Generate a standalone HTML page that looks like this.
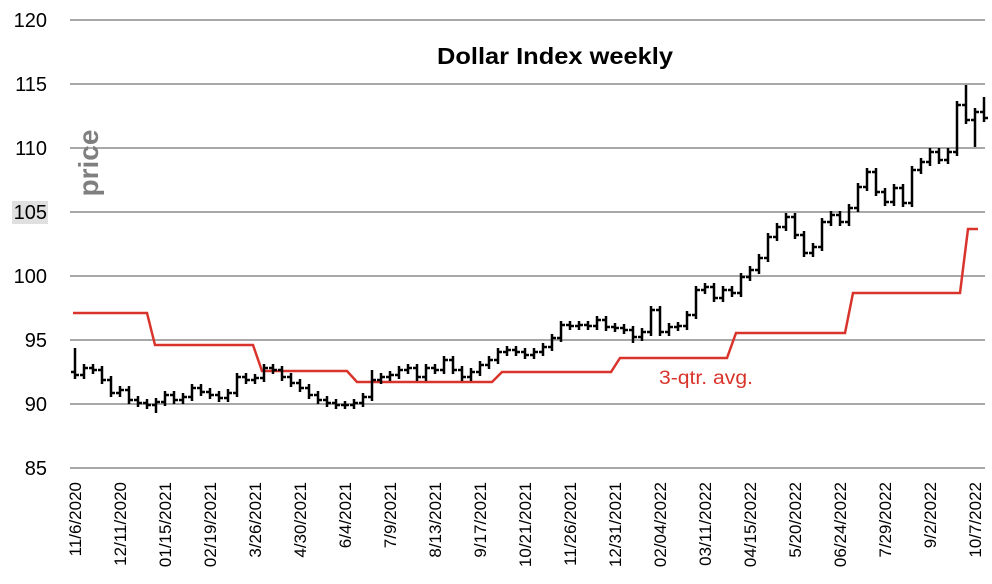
<!DOCTYPE html>
<html><head><meta charset="utf-8"><style>
body{margin:0;background:#fff;width:992px;height:584px;overflow:hidden}
svg{display:block;font-family:"Liberation Sans",Arial,sans-serif}
</style></head><body>
<svg id="c" width="992" height="584" xmlns="http://www.w3.org/2000/svg">
<rect width="992" height="584" fill="#fff"/>
<g stroke="#8c8c8c" stroke-width="1.5">
<line x1="70" y1="20" x2="985" y2="20"/><line x1="70" y1="84" x2="985" y2="84"/>
<line x1="70" y1="148" x2="985" y2="148"/><line x1="70" y1="212" x2="985" y2="212"/>
<line x1="70" y1="276" x2="985" y2="276"/><line x1="70" y1="340" x2="985" y2="340"/>
<line x1="70" y1="404" x2="985" y2="404"/><line x1="70" y1="468" x2="985" y2="468"/>
</g>
<rect x="12" y="201" width="36" height="23" fill="#e0e0e0"/>
<g font-size="20" text-anchor="end" fill="#000">
<text x="47" y="27">120</text><text x="47" y="91">115</text><text x="47" y="155">110</text>
<text x="47" y="219">105</text><text x="47" y="283">100</text><text x="47" y="347">95</text>
<text x="47" y="411">90</text><text x="47" y="475">85</text>
</g>
<text transform="translate(98,163) rotate(-90)" font-size="28" font-weight="bold" fill="#7f7f7f" text-anchor="middle">price</text>
<text x="437" y="64" font-size="23" font-weight="bold" textLength="236" lengthAdjust="spacingAndGlyphs">Dollar Index weekly</text>
<text x="659" y="384" font-size="19" fill="#d9342b" textLength="94" lengthAdjust="spacingAndGlyphs">3-qtr. avg.</text>
<polyline fill="none" stroke="#d9342b" stroke-width="2.5" points="73,313 147,313 155,345 253,345 262,371 347,371 357,382 492,382 502,372 611,372 620,358 727,358 736,333 845,333 853,293 960,293 968,229 978,229"/>
<g id="xl" font-size="17" text-anchor="end"></g>
<g id="bars" stroke="#000" stroke-width="2.5"></g>
</svg>
<script>
var labels=["11/6/2020","12/11/2020","01/15/2021","02/19/2021","3/26/2021","4/30/2021","6/4/2021","7/9/2021","8/13/2021","9/17/2021","10/21/2021","11/26/2021","12/31/2021","02/04/2022","03/11/2022","04/15/2022","5/20/2022","06/24/2022","7/29/2022","9/2/2022","10/7/2022"];
var xl=document.getElementById('xl'),ns="http://www.w3.org/2000/svg";
labels.forEach(function(l,i){var x=75+45*i,t=document.createElementNS(ns,'text');t.setAttribute('transform','translate('+(x+6)+',482) rotate(-90)');t.textContent=l;xl.appendChild(t);});
var c=[375,368,370,380,393,390,400,403,405,402,395,400,397,388,392,395,398,393,377,380,378,368,370,377,383,388,395,400,403,405,405,403,397,380,377,375,370,368,377,368,370,360,370,377,372,365,360,352,350,352,355,352,347,338,325,326,325,326,320,327,328,330,337,332,310,332,327,326,315,290,287,298,290,293,277,270,258,237,227,217,235,253,247,222,215,222,208,187,172,192,202,188,203,170,162,152,160,152,105,120,112,118];
var b=document.getElementById('bars'),prev=372;
c.forEach(function(v,i){var x=75+9*i,o=prev,top=Math.min(o,v)-4,bot=Math.max(o,v)+4;
if(i==0){top=348;}if(i==9){bot=413;}if(i==33){top=370;}if(i==64){top=306;}if(i==99){top=85;}if(i==100){bot=147;}if(i==101){top=97;}if(i==62){bot=343;}
var d='M'+x+' '+top+'V'+bot+'M'+(x-4)+' '+o+'H'+x+'M'+x+' '+v+'H'+(x+4);
var p=document.createElementNS(ns,'path');p.setAttribute('d',d);b.appendChild(p);prev=v;});
</script>
</body></html>
